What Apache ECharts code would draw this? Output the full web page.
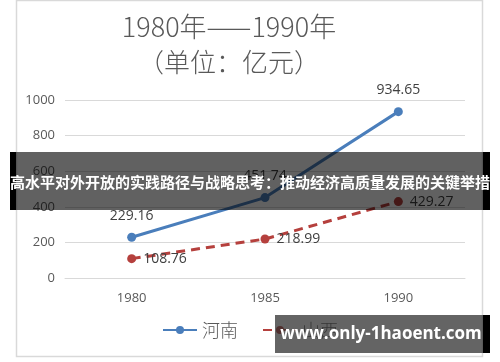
<!DOCTYPE html>
<html><head><meta charset="utf-8">
<script src="https://cdn.jsdelivr.net/npm/echarts@6/dist/echarts.min.js"></script>
<style>html,body{margin:0;padding:0;background:#fff}#c{width:500px;height:362px}</style>
</head><body><div id="c"></div>
<script>
const categories = ['1980', '1985', '1990'];
const henan = [229.16, 451.74, 934.65];
const shanxi = [108.76, 218.99, 429.27];
const seriesNames = ['河南', '山西'];
const titleLine1 = '1980年——1990年';
const titleLine2 = '（单位：亿元）';
const bannerText = '高水平对外开放的实践路径与战略思考：推动经济高质量发展的关键举措';
const watermarkText = 'www.only-1haoent.com';

const numFont = '"Open Sans", "Noto Sans CJK SC", sans-serif';
const cjkFont = '"Noto Sans CJK SC", sans-serif';
const chart = echarts.init(document.getElementById('c'), null, {renderer: 'canvas'});
chart.setOption({
  animation: false,
  backgroundColor: '#fff',
  title: [
    {text: titleLine1, left: 224, top: 8, textAlign: 'center',
     textStyle: {fontFamily: cjkFont, fontSize: 27, fontWeight: 300, color: '#595959'}},
    {text: titleLine2, left: 224, top: 44, textAlign: 'center',
     textStyle: {fontFamily: cjkFont, fontSize: 26, fontWeight: 300, color: '#595959'}}
  ],
  legend: {
    bottom: 18, left: 'center', itemWidth: 34, itemHeight: 10, itemGap: 24,
    textStyle: {fontFamily: cjkFont, fontSize: 18, fontWeight: 300, color: '#595959'},
    data: seriesNames
  },
  grid: {left: 65, right: 35, top: 100, bottom: 84},
  xAxis: {
    type: 'category', data: categories, boundaryGap: true,
    axisLine: {show: true, lineStyle: {color: '#d9d9d9'}},
    axisTick: {show: false},
    axisLabel: {fontFamily: numFont, fontSize: 13, color: '#595959', margin: 14}
  },
  yAxis: {
    type: 'value', min: 0, max: 1000, interval: 200,
    axisLine: {show: false}, axisTick: {show: false},
    splitLine: {lineStyle: {color: '#d9d9d9', width: 1}},
    axisLabel: {fontFamily: numFont, fontSize: 13, color: '#595959', margin: 10,
                formatter: function (v) { return String(v); }}
  },
  series: [
    {name: seriesNames[0], type: 'line', data: henan, symbol: 'circle', symbolSize: 9,
     itemStyle: {color: '#4A7EBB'}, lineStyle: {color: '#4A7EBB', width: 3},
     label: {show: true, position: 'top', distance: 10, fontFamily: numFont, fontSize: 14, color: '#404040'}},
    {name: seriesNames[1], type: 'line', data: shanxi, symbol: 'circle', symbolSize: 9,
     itemStyle: {color: '#B5403D'}, lineStyle: {color: '#B5403D', width: 3, type: [9, 6]},
     label: {show: true, position: 'right', distance: 7, fontFamily: numFont, fontSize: 14, color: '#404040'}}
  ],
  graphic: [
    {type: 'rect', shape: {x: 16.5, y: 0.5, width: 466, height: 356}, z: 0, silent: true,
     style: {fill: 'none', stroke: '#d9d9d9', lineWidth: 1.5}},
    {type: 'rect', shape: {x: 16, y: 152, width: 467, height: 58}, z: 100,
     style: {fill: 'rgba(0,0,0,0.62)'}},
    {type: 'rect', shape: {x: 10, y: 152, width: 6, height: 58}, z: 100, style: {fill: '#000'}},
    {type: 'rect', shape: {x: 483, y: 152, width: 7, height: 58}, z: 100, style: {fill: '#000'}},
    {type: 'text', x: 250, y: 182, z: 101,
     style: {text: bannerText, fill: '#fff', font: 'bold 15px "Noto Sans CJK SC", sans-serif',
             textAlign: 'center', textVerticalAlign: 'middle'}},
    {type: 'rect', shape: {x: 275, y: 315, width: 208, height: 38}, z: 100,
     style: {fill: 'rgba(40,40,40,0.72)'}},
    {type: 'rect', shape: {x: 483, y: 315, width: 7, height: 38}, z: 100, style: {fill: '#000'}},
    {type: 'text', x: 381, y: 334, z: 101,
     style: {text: watermarkText, fill: '#fff', font: 'bold 17px "Open Sans", sans-serif',
             textAlign: 'center', textVerticalAlign: 'middle'}}
  ]
});
</script></body></html>
